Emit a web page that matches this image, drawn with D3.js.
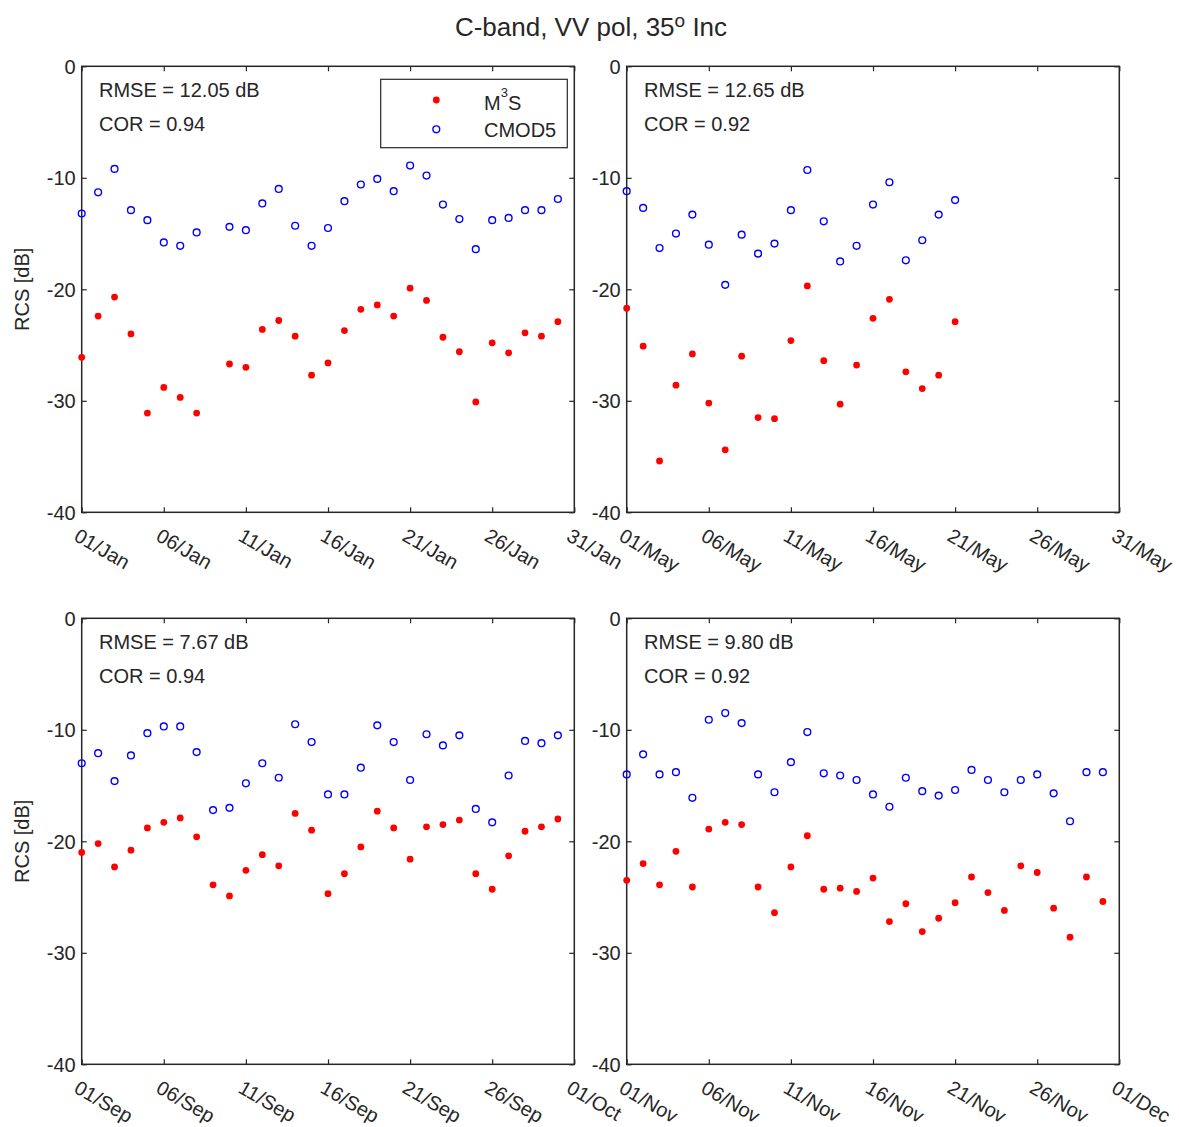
<!DOCTYPE html>
<html>
<head>
<meta charset="utf-8">
<script src="https://cdn.jsdelivr.net/npm/d3@7"></script>
<style>
  body { margin: 0; background: #fff; }
  text { font-family: "Liberation Sans", Arial, sans-serif; fill: #262626; }
</style>
</head>
<body>
<svg id="chart" width="1179" height="1127"></svg>
<script>
// ---- data: daily radar cross section (dB), day offset from the first day of each window ----
const janDays   = [0,1,2,3,4,5,6,7,9,10,11,12,13,14,15,16,17,18,19,20,21,22,23,24,25,26,27,28,29];
const janM3S    = [-26.1,-22.4,-20.7,-24.0,-31.1,-28.8,-29.7,-31.1,-26.7,-27.0,-23.6,-22.8,-24.2,-27.7,
                   -26.6,-23.7,-21.8,-21.4,-22.4,-19.9,-21.0,-24.3,-25.6,-30.1,-24.8,-25.7,-23.9,-24.2,-22.9];
const janCMOD5  = [-13.2,-11.3,-9.2,-12.9,-13.8,-15.8,-16.1,-14.9,-14.4,-14.7,-12.3,-11.0,-14.3,-16.1,
                   -14.5,-12.1,-10.6,-10.1,-11.2,-8.9,-9.8,-12.4,-13.7,-16.4,-13.8,-13.6,-12.9,-12.9,-11.9];

const mayDays   = [0,1,2,3,4,5,6,7,8,9,10,11,12,13,14,15,16,17,18,19,20];
const mayM3S    = [-21.7,-25.1,-35.4,-28.6,-25.8,-30.2,-34.4,-26.0,-31.5,-31.6,-24.6,-19.7,-26.4,-30.3,
                   -26.8,-22.6,-20.9,-27.4,-28.9,-27.7,-22.9];
const mayCMOD5  = [-11.2,-12.7,-16.3,-15.0,-13.3,-16.0,-19.6,-15.1,-16.8,-15.9,-12.9,-9.3,-13.9,-17.5,
                   -16.1,-12.4,-10.4,-17.4,-15.6,-13.3,-12.0];

const sepDays   = [0,1,2,3,4,5,6,7,8,9,10,11,12,13,14,15,16,17,18,19,20,21,22,23,24,25,26,27,28,29];
const sepM3S    = [-21.0,-20.2,-22.3,-20.8,-18.8,-18.3,-17.9,-19.6,-23.9,-24.9,-22.6,-21.2,-22.2,-17.5,-19.0,
                   -24.7,-22.9,-20.5,-17.3,-18.8,-21.6,-18.7,-18.5,-18.1,-22.9,-24.3,-21.3,-19.1,-18.7,-18.0];
const sepCMOD5  = [-13.0,-12.1,-14.6,-12.3,-10.3,-9.7,-9.7,-12.0,-17.2,-17.0,-14.8,-13.0,-14.3,-9.5,-11.1,
                   -15.8,-15.8,-13.4,-9.6,-11.1,-14.5,-10.4,-11.4,-10.5,-17.1,-18.3,-14.1,-11.0,-11.2,-10.5];

const novDays   = [0,1,2,3,4,5,6,7,8,9,10,11,12,13,14,15,16,17,18,19,20,21,22,23,24,25,26,27,28,29];
const novM3S    = [-23.5,-22.0,-23.9,-20.9,-24.1,-18.9,-18.3,-18.5,-24.1,-26.4,-22.3,-19.5,-24.3,-24.2,-24.5,
                   -23.3,-27.2,-25.6,-28.1,-26.9,-25.5,-23.2,-24.6,-26.2,-22.2,-22.8,-26.0,-28.6,-23.2,-25.4];
const novCMOD5  = [-14.0,-12.2,-14.0,-13.8,-16.1,-9.1,-8.5,-9.4,-14.0,-15.6,-12.9,-10.2,-13.9,-14.1,-14.5,
                   -15.8,-16.9,-14.3,-15.5,-15.9,-15.4,-13.6,-14.5,-15.6,-14.5,-14.0,-15.7,-18.2,-13.8,-13.8];

const windowStarts = [Date.UTC(2021,0,1), Date.UTC(2021,4,1), Date.UTC(2021,8,1), Date.UTC(2021,10,1)];
const rmseValues   = ["12.05", "12.65", "7.67", "9.80"];
const corValues    = ["0.94", "0.92", "0.94", "0.92"];
const yTicks       = [0, -10, -20, -30, -40];
const seriesNames  = ["M3S", "CMOD5"];

// ---- layout ----
const svg = d3.select("#chart");
const W = 492.6, H = 446;
const lefts = [81.7, 626.7], tops = [66.3, 618.3];
const ink = "#262626";
const red = "#ff0000", blue = "#0000ff";
const dotR = 3.4, ringR = 3.4, ringW = 1.4;

const panels = [
  { start: windowStarts[0], days: janDays, m3s: janM3S, cmod5: janCMOD5, col: 0, row: 0 },
  { start: windowStarts[1], days: mayDays, m3s: mayM3S, cmod5: mayCMOD5, col: 1, row: 0 },
  { start: windowStarts[2], days: sepDays, m3s: sepM3S, cmod5: sepCMOD5, col: 0, row: 1 },
  { start: windowStarts[3], days: novDays, m3s: novM3S, cmod5: novCMOD5, col: 1, row: 1 }
];

const fmt = d3.utcFormat("%d/%b");

panels.forEach((p, i) => {
  const start = new Date(p.start);
  const end = d3.utcDay.offset(start, 30);
  const x = d3.scaleUtc().domain([start, end]).range([0, W]);
  const y = d3.scaleLinear().domain([-40, 0]).range([H, 0]);
  const xt = d3.utcDay.range(start, d3.utcDay.offset(end, 1), 5);

  const g = svg.append("g").attr("transform", `translate(${lefts[p.col]},${tops[p.row]})`);

  // axes with inward ticks
  const bottom = g.append("g").attr("transform", `translate(0,${H})`)
    .call(d3.axisBottom(x).tickValues(xt).tickSizeInner(-5).tickSizeOuter(0).tickFormat(fmt));
  bottom.selectAll("text")
    .attr("x", -9.5).attr("y", 27.5).attr("dy", null)
    .attr("text-anchor", "start")
    .attr("transform", "rotate(30 -9.5 27.5)")
    .style("font-size", "20px");
  g.append("g")
    .call(d3.axisTop(x).tickValues(xt).tickSizeInner(-5).tickSizeOuter(0).tickFormat(""));
  const left = g.append("g")
    .call(d3.axisLeft(y).tickValues(yTicks).tickSizeInner(-5).tickSizeOuter(0).tickPadding(6)
      .tickFormat(d => String(d)));
  left.selectAll("text").style("font-size", "20px").attr("dy", "0.35em");
  g.append("g").attr("transform", `translate(${W},0)`)
    .call(d3.axisRight(y).tickValues(yTicks).tickSizeInner(-5).tickSizeOuter(0).tickFormat(""));
  g.selectAll(".domain").remove();
  g.selectAll(".tick line").attr("stroke", ink).attr("stroke-width", 1.2);
  g.selectAll(".tick text").attr("fill", ink).attr("font-family", null);

  g.append("rect").attr("width", W).attr("height", H)
    .attr("fill", "none").attr("stroke", ink).attr("stroke-width", 1.5);

  // series
  const pts = p.days.map((d, k) => ({ t: d3.utcDay.offset(start, d), m: p.m3s[k], c: p.cmod5[k] }));
  g.append("g").selectAll("circle").data(pts).join("circle")
    .attr("cx", d => x(d.t)).attr("cy", d => y(d.c)).attr("r", ringR)
    .attr("fill", "none").attr("stroke", blue).attr("stroke-width", ringW);
  g.append("g").selectAll("circle").data(pts).join("circle")
    .attr("cx", d => x(d.t)).attr("cy", d => y(d.m)).attr("r", dotR)
    .attr("fill", red);

  // statistics
  g.append("text").attr("x", 17.3).attr("y", 30.4).style("font-size", "20px")
    .text(`RMSE = ${rmseValues[i]} dB`);
  g.append("text").attr("x", 17.3).attr("y", 64.4).style("font-size", "20px")
    .text(`COR = ${corValues[i]}`);

  if (p.col === 0) {
    g.append("text")
      .attr("transform", `translate(${22 - lefts[0]},${H / 2}) rotate(-90)`)
      .attr("text-anchor", "middle").attr("dy", "0.35em")
      .style("font-size", "20px").text("RCS [dB]");
  }

  // legend
  if (i === 0) {
    const lg = g.append("g").attr("transform", `translate(${380.7 - lefts[0]},${79.3 - tops[0]})`);
    lg.append("rect").attr("width", 186.6).attr("height", 68.4)
      .attr("fill", "#fff").attr("stroke", ink).attr("stroke-width", 1.2);
    lg.append("circle").attr("cx", 55.6).attr("cy", 20.7).attr("r", dotR).attr("fill", red);
    lg.append("circle").attr("cx", 55.6).attr("cy", 50).attr("r", ringR)
      .attr("fill", "none").attr("stroke", blue).attr("stroke-width", ringW);
    const t1 = lg.append("text").attr("x", 103.3).attr("y", 30.7).style("font-size", "20px");
    t1.append("tspan").text(seriesNames[0].charAt(0));
    t1.append("tspan").attr("dy", -12.5).style("font-size", "13px").text(seriesNames[0].charAt(1));
    t1.append("tspan").attr("dy", 12.5).text(seriesNames[0].charAt(2));
    lg.append("text").attr("x", 103.3).attr("y", 58).style("font-size", "20px").text(seriesNames[1]);
  }
});

// figure title
const title = svg.append("text").attr("x", 591).attr("y", 35.5)
  .attr("text-anchor", "middle").style("font-size", "26px");
title.append("tspan").text("C-band, VV pol, 35");
title.append("tspan").attr("dy", -9).style("font-size", "19px").text("o");
title.append("tspan").attr("dy", 9).text(" Inc");
</script>
</body>
</html>
